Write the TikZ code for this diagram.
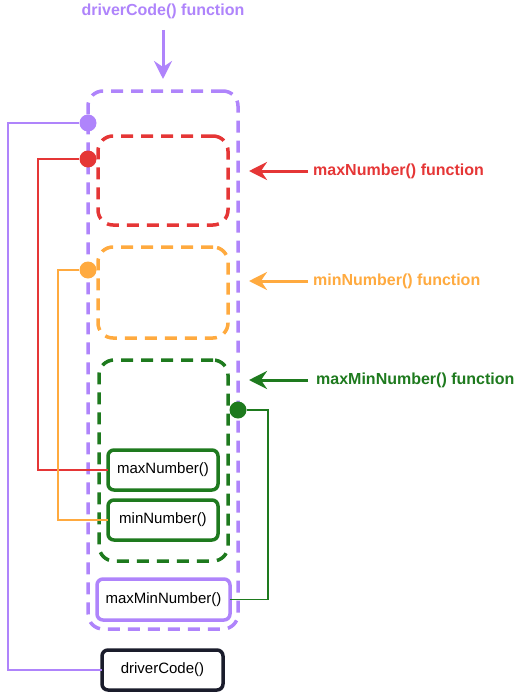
\documentclass[tikz,border=0pt]{standalone}
\usepackage{fontspec}
\setmainfont{Liberation Sans}
\usetikzlibrary{arrows.meta}
\definecolor{cpurple}{HTML}{AF84FB}
\definecolor{cred}{HTML}{E53636}
\definecolor{corange}{HTML}{FFAA3F}
\definecolor{cgreen}{HTML}{1E7A1E}
\definecolor{cdark}{HTML}{1A1C2B}
\begin{document}
\begin{tikzpicture}[x=1pt,y=-1pt,
  dbox/.style={draw=#1,line width=3.5pt,dash pattern=on 12pt off 8pt,rounded corners=15pt,inner sep=0pt,outer sep=0pt},
  fbox/.style={draw=#1,text=black,line width=3.5pt,rounded corners=6pt,inner sep=0pt,outer sep=0pt,fill=white,
    font=\fontsize{15}{18}\selectfont},
  conn/.style={line width=1.5pt},
  dot/.style={circle,fill=#1,inner sep=0pt,minimum size=17pt},
  bigarrow/.style={line width=3pt,-{Stealth[length=18pt,width=18pt,inset=6pt]}},
  lab/.style={font=\fontsize{16}{18}\selectfont\bfseries,inner sep=0pt}]
\useasboundingbox (0,0) rectangle (519,693);
% containers
\node[dbox=cpurple,minimum width=150pt,minimum height=538pt] (outer) at (163,360) {};
\node[dbox=cred,minimum width=130pt,minimum height=89pt] (redbox) at (163,180.5) {};
\node[dbox=corange,minimum width=130pt,minimum height=91pt] (orbox) at (163,292.5) {};
\node[dbox=cgreen,minimum width=129pt,minimum height=201pt] (grbox) at (163.5,460.5) {};
% function boxes
\node[fbox=cgreen,minimum width=110pt,minimum height=40pt] (maxn) at (163,470) {maxNumber()};
\node[fbox=cgreen,minimum width=110pt,minimum height=40pt] (minn) at (163,520) {minNumber()};
\node[fbox=cpurple,minimum width=133pt,minimum height=41pt] (mmn) at (163.5,599.5) {maxMinNumber()};
\node[fbox=cdark,minimum width=121pt,minimum height=40pt] (dc) at (162.5,670) {driverCode()};
% connector corners
\coordinate (pc) at (8,123);
\coordinate (rc) at (38,159);
\coordinate (oc) at (58,270);
\coordinate (gc) at (268,410);
% dots
\node[dot=cpurple] (pdot) at (88,123) {};
\node[dot=cred] (rdot) at (88,159) {};
\node[dot=corange] (odot) at (88,270) {};
\node[dot=cgreen] (gdot) at (238,410) {};
\draw[conn,cpurple] (pdot.west) -- (pc) |- (dc.west);
\draw[conn,cred] (rdot.west) -- (rc) |- (maxn.west);
\draw[conn,corange] (odot.west) -- (oc) |- (minn.west);
\draw[conn,cgreen] (gdot.east) -- (gc) |- (mmn.east);
% labels and arrows
\node[lab,text=cpurple] (ldc) at (163,11) {driverCode() function};
\coordinate (dcs) at (163,30);
\coordinate (dct) at (163,79);
\draw[bigarrow,cpurple] (dcs) -- (dct);
\node[lab,text=cred,anchor=west] (lmax) at (313,171) {maxNumber() function};
\coordinate (tmax) at (249,171);
\draw[bigarrow,cred] ([xshift=-5pt]lmax.west) -- (tmax);
\node[lab,text=corange,anchor=west] (lmin) at (313,281) {minNumber() function};
\coordinate (tmin) at (249,281);
\draw[bigarrow,corange] ([xshift=-5pt]lmin.west) -- (tmin);
\node[lab,text=cgreen,anchor=west] (lmm) at (316,380) {maxMinNumber() function};
\coordinate (tmm) at (249,380);
\draw[bigarrow,cgreen] ([xshift=-8pt]lmm.west) -- (tmm);
\end{tikzpicture}
\end{document}
